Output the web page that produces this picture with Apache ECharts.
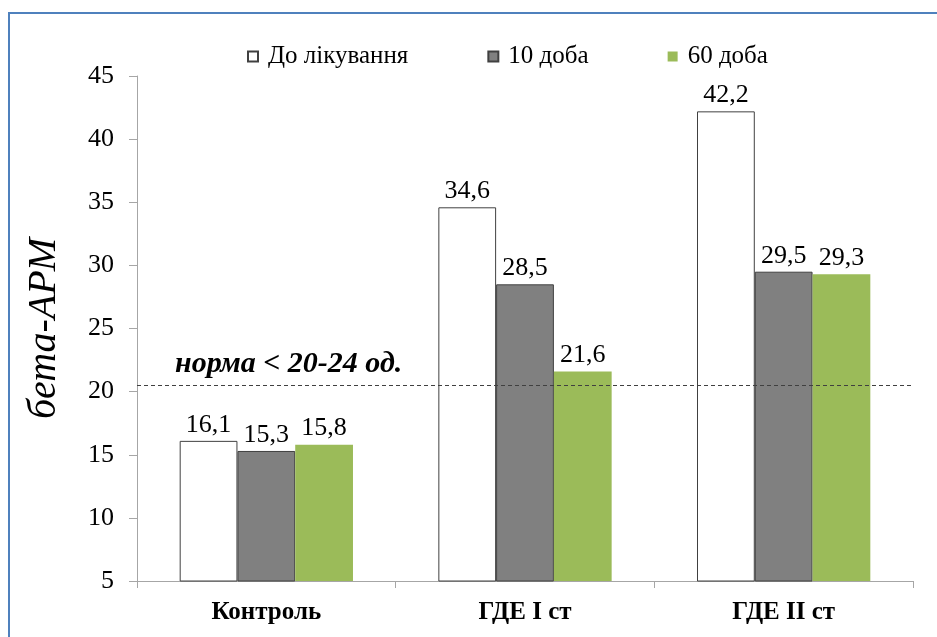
<!DOCTYPE html>
<html>
<head>
<meta charset="utf-8">
<script src="https://cdn.jsdelivr.net/npm/echarts@6/dist/echarts.min.js"></script>
<style>
  html, body { margin: 0; padding: 0; background: #fff; }
  #chart { width: 937px; height: 637px; }
</style>
</head>
<body>
<div id="chart"></div>
<script>
// Groups along the x axis
const categories = ['Контроль', 'ГДЕ I ст', 'ГДЕ II ст'];
// Series names
const seriesNames = ['До лікування', '10 доба', '60 доба'];
// beta-ARM values per group
const beforeTreatment = [16.1, 34.6, 42.2];
const day10 = [15.3, 28.5, 29.5];
const day60 = [15.8, 21.6, 29.3];
// Norm threshold line and its caption
const normLevel = 20.5;
const normText = 'норма < 20-24 од.';
const yAxisTitle = 'бета-АРМ';

const FONT = 'Liberation Serif';
const fmt = p => String(p.value).replace('.', ',');

const chart = echarts.init(document.getElementById('chart'));

function barSeries(name, data, color, border, extra) {
  return Object.assign({
    name: name,
    type: 'bar',
    data: data,
    barGap: '0%',
    barCategoryGap: '33%',
    itemStyle: { color: color, borderColor: border, borderWidth: border ? 1 : 0 },
    label: {
      show: true, position: 'top', distance: 3, formatter: fmt,
      color: '#000', fontSize: 26, fontFamily: FONT
    }
  }, extra || {});
}

chart.setOption({
  animation: false,
  backgroundColor: '#fff',
  graphic: [{
    type: 'rect',
    shape: { x: 9, y: 13, width: 1000, height: 700 },
    style: { fill: 'none', stroke: '#4F81BD', lineWidth: 2 },
    silent: true,
    z: -1
  }],
  legend: {
    left: 242, top: 39,
    itemWidth: 10, itemHeight: 10, itemGap: 79,
    icon: 'rect',
    textStyle: { fontSize: 25, fontFamily: FONT, color: '#000', padding: [0, 0, 0, 5] },
    data: seriesNames
  },
  grid: { left: 137, right: 24, top: 76, bottom: 56, containLabel: false },
  xAxis: {
    type: 'category',
    data: categories,
    axisLine: { lineStyle: { color: '#A6A6A6', width: 1 } },
    axisTick: { show: true, alignWithLabel: false, length: 7, lineStyle: { color: '#A6A6A6' } },
    axisLabel: { fontSize: 25, fontWeight: 'bold', fontFamily: FONT, color: '#000', margin: 19 }
  },
  yAxis: {
    type: 'value',
    min: 5, max: 45, interval: 5,
    name: yAxisTitle,
    nameLocation: 'middle',
    nameGap: 73,
    nameTextStyle: { fontSize: 40, fontStyle: 'italic', fontFamily: FONT, color: '#000' },
    axisLine: { show: true, lineStyle: { color: '#A6A6A6', width: 1 } },
    axisTick: { show: true, length: 8, lineStyle: { color: '#A6A6A6' } },
    axisLabel: { fontSize: 26, fontFamily: FONT, color: '#000', margin: 23 },
    splitLine: { show: false }
  },
  series: [
    barSeries(seriesNames[0], beforeTreatment, '#FFFFFF', '#404040', {
      markLine: {
        silent: true,
        symbol: ['none', 'none'],
        lineStyle: { type: [4, 3], color: '#404040', width: 1 },
        label: {
          show: true, position: 'insideStartTop', distance: [38, 6],
          formatter: normText,
          fontSize: 30, fontWeight: 'bold', fontStyle: 'italic', fontFamily: FONT, color: '#000'
        },
        data: [{ yAxis: normLevel }]
      }
    }),
    barSeries(seriesNames[1], day10, '#808080', '#404040'),
    barSeries(seriesNames[2], day60, '#9BBB59', null)
  ]
});
</script>
</body>
</html>
